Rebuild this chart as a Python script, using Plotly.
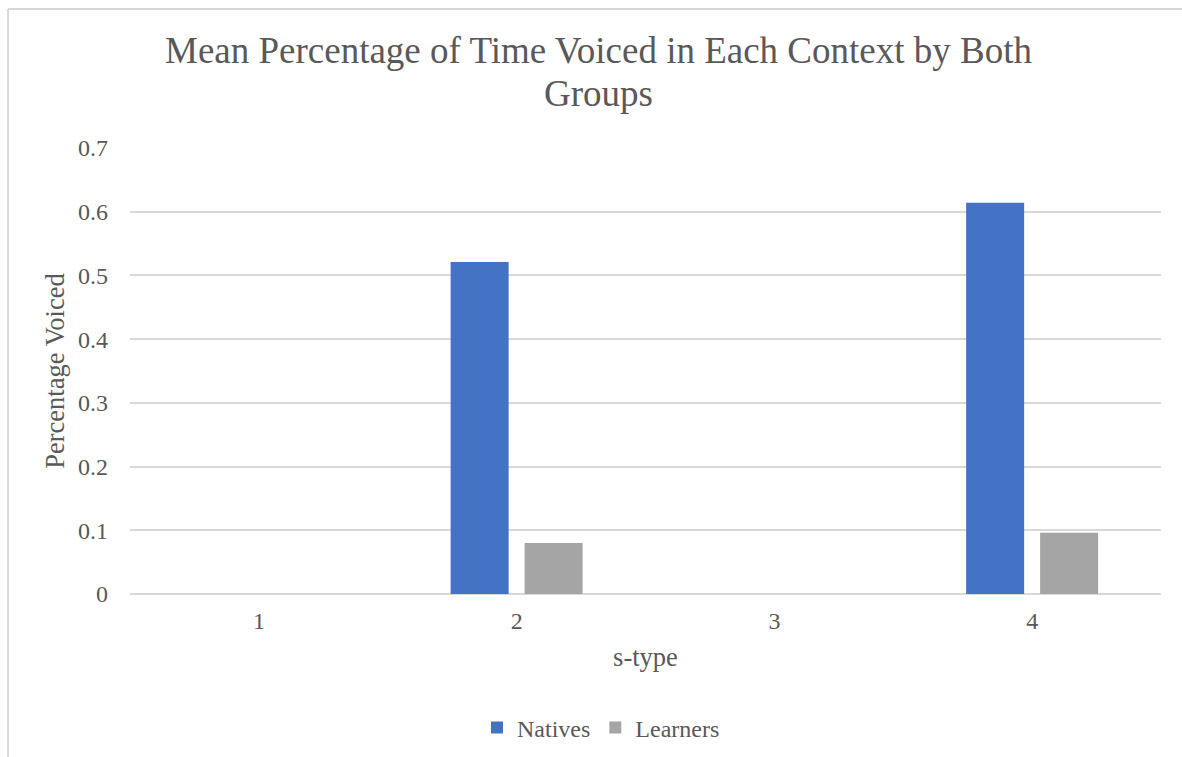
import plotly.graph_objects as go

# Chart data
categories = ["1", "2", "3", "4"]
natives = [0, 0.521, 0, 0.614]
learners = [0, 0.080, 0, 0.096]
y_ticks = [0, 0.1, 0.2, 0.3, 0.4, 0.5, 0.6, 0.7]
title_lines = ["Mean Percentage of Time Voiced in Each Context by Both", "Groups"]

FONT = "Liberation Serif, Times New Roman, serif"
TEXT = "#595959"
GRID = "#d9d9d9"

fig = go.Figure()
fig.add_trace(go.Bar(name="Natives", x=categories, y=natives,
                     marker=dict(color="#4472C4", line=dict(width=0))))
fig.add_trace(go.Bar(name="Learners", x=categories, y=learners,
                     marker=dict(color="#A5A5A5", line=dict(width=0))))

# chart frame (left and top edges)
fl, ft = -0.1183, 1.3117
fig.add_shape(type="line", xref="paper", yref="paper", x0=fl, x1=fl, y0=-1, y1=ft,
              line=dict(color=GRID, width=2), layer="below")
fig.add_shape(type="line", xref="paper", yref="paper", x0=fl, x1=1.2, y0=ft, y1=ft,
              line=dict(color=GRID, width=2), layer="below")

# two-line chart title, Excel-like line spacing
for i, line in enumerate(title_lines):
    fig.add_annotation(text=line, xref="paper", yref="paper",
                       x=(598 - 130) / 1031, xanchor="center",
                       y=1 + (148 - (50 + 43 * i)) / 446, yanchor="middle",
                       showarrow=False,
                       font=dict(family=FONT, size=37, color=TEXT))

fig.update_layout(
    width=1182, height=757,
    margin=dict(l=130, r=21, t=148, b=163),
    paper_bgcolor="white", plot_bgcolor="white",
    font=dict(family=FONT, color=TEXT, size=24),
    barmode="group", bargap=0.426, bargroupgap=0.216,
    showlegend=True,
    legend=dict(orientation="h", x=601 / 1182, xref="container", xanchor="center",
                y=1 - 728 / 757, yref="container", yanchor="middle",
                font=dict(family=FONT, size=24, color=TEXT), itemwidth=30),
    xaxis=dict(title=dict(text="s-type", standoff=14,
                          font=dict(family=FONT, size=26.5, color=TEXT)),
               showgrid=False, showline=False, ticks="", ticklabelstandoff=10,
               tickfont=dict(family=FONT, size=24, color=TEXT)),
    yaxis=dict(title=dict(text="Percentage Voiced", standoff=5,
                          font=dict(family=FONT, size=26.5, color=TEXT)),
               range=[0, 0.7], tickvals=y_ticks, ticktext=[f"{v:g}" for v in y_ticks],
               showgrid=True, gridcolor=GRID, gridwidth=2,
               zeroline=True, zerolinecolor=GRID, zerolinewidth=2,
               showline=False, ticks="", ticklabelstandoff=21,
               tickfont=dict(family=FONT, size=24, color=TEXT)),
)

fig.write_html("out.html")
